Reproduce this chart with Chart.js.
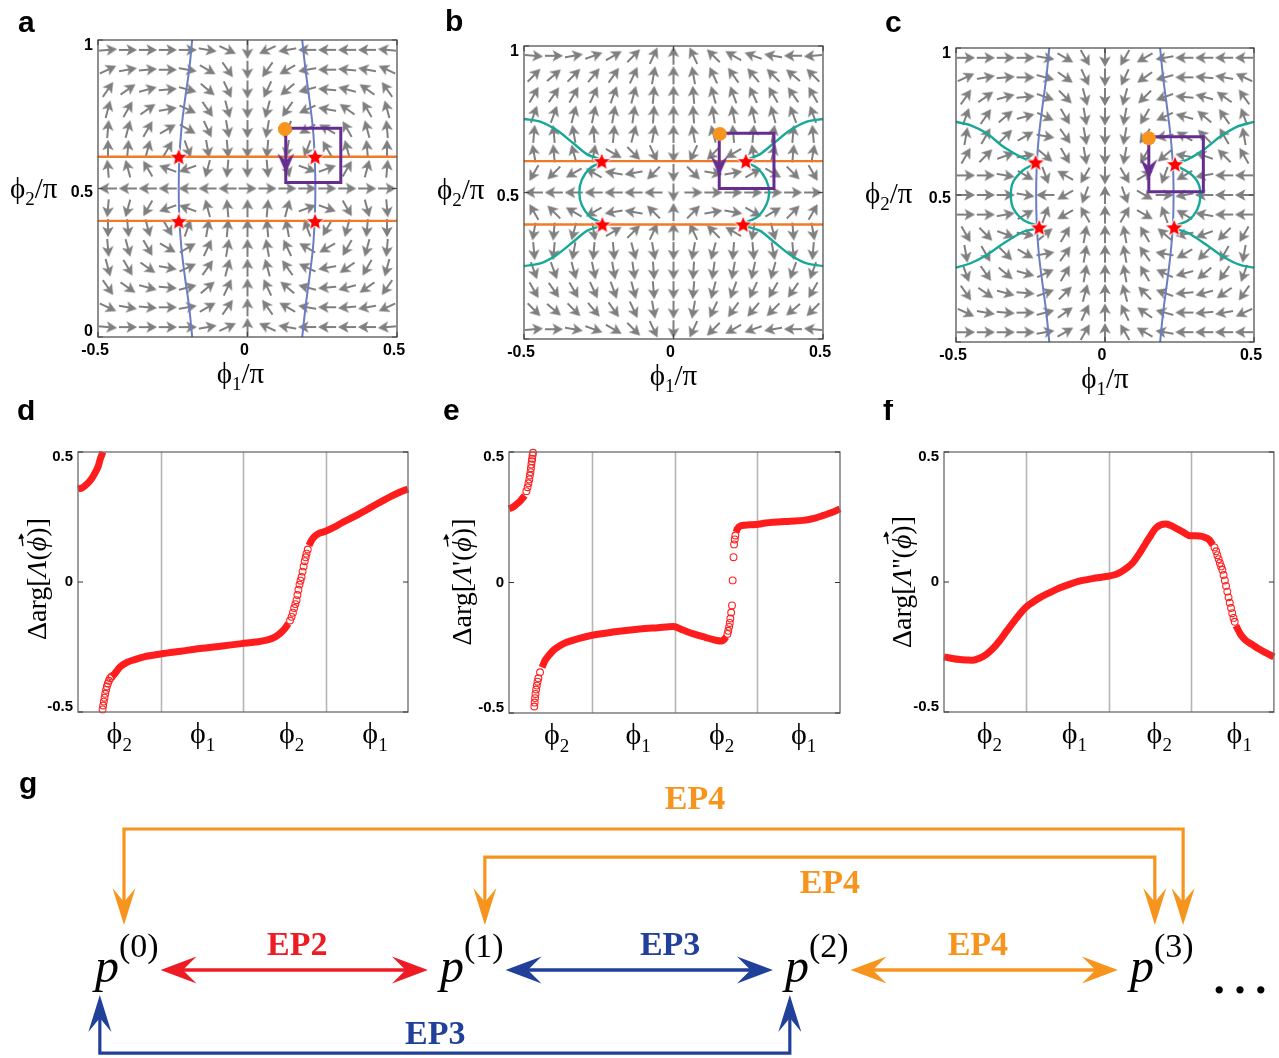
<!DOCTYPE html>
<html>
<head>
<meta charset="utf-8">
<script src="https://cdn.jsdelivr.net/npm/chart.js@4.4.1/dist/chart.umd.min.js"></script>
<style>
html,body{margin:0;padding:0;background:#fff;}
#wrap{position:relative;width:1279px;height:1058px;overflow:hidden;background:#fff}
canvas{position:absolute;}
</style>
</head>
<body>
<div id="wrap">
<canvas id="cA" width="430" height="400" style="left:0px;top:0px"></canvas>
<canvas id="cB" width="430" height="400" style="left:430px;top:0px"></canvas>
<canvas id="cC" width="419" height="400" style="left:860px;top:0px"></canvas>
<canvas id="cD" width="430" height="360" style="left:0px;top:400px"></canvas>
<canvas id="cE" width="440" height="360" style="left:430px;top:400px"></canvas>
<canvas id="cF" width="409" height="360" style="left:870px;top:400px"></canvas>
<canvas id="cG" width="1279" height="298" style="left:0px;top:760px"></canvas>
</div>
<script>
// ================= DATA =================
// Vector-field directions (degrees, counter-clockwise from +phi1), rows top (phi2 ~ 1) to bottom (phi2 ~ 0)
const fieldA = [
 [5,0,0,0,0,-10,-25,-90,205,190,180,180,180,180,175],
 [25,10,5,0,-10,-30,-55,-90,235,210,190,180,175,170,155],
 [55,35,15,5,-15,-40,-65,-90,245,220,195,175,165,145,125],
 [75,60,35,10,-25,-55,-75,-90,255,235,205,170,145,120,105],
 [85,75,60,30,-30,-65,-80,-90,260,245,210,150,120,105,95],
 [90,85,75,60,-70,-80,-85,-90,265,260,250,120,105,95,90],
 [95,105,120,160,-160,-105,-95,-90,275,285,340,20,60,75,85],
 [180,180,180,180,180,180,180,0,0,0,0,0,0,0,0],
 [-95,-105,-120,-160,160,105,95,90,-275,-285,-340,-20,-60,-75,-85],
 [-90,-85,-75,-60,70,80,85,90,-265,-260,-250,-120,-105,-95,-90],
 [-85,-75,-60,-30,30,65,80,90,-260,-245,-210,-150,-120,-105,-95],
 [-75,-60,-35,-10,25,55,75,90,-255,-235,-205,-170,-145,-120,-105],
 [-55,-35,-15,-5,15,40,65,90,-245,-220,-195,-175,-165,-145,-125],
 [-25,-10,-5,0,10,30,55,90,-235,-210,-190,-180,-175,-170,-155],
 [-5,0,0,0,0,10,25,90,-205,-190,-180,-180,-180,-180,-175]
];
const fieldB = [
 [-5,0,10,20,30,45,65,90,115,135,150,160,170,180,185],
 [45,40,45,50,55,65,80,90,100,115,125,130,135,140,135],
 [60,55,60,65,70,75,85,90,95,105,110,115,120,125,120],
 [70,70,75,78,80,82,86,90,94,98,100,102,105,110,110],
 [85,95,100,95,85,75,80,90,100,105,95,85,80,85,95],
 [100,95,105,80,-30,-45,-65,-90,245,225,210,100,75,85,80],
 [-120,-135,-150,150,170,-170,-135,-90,315,350,10,30,330,315,300],
 [180,180,180,180,180,180,180,-90,0,0,0,0,0,0,0],
 [120,135,150,-150,-170,170,135,90,-315,-350,-10,-30,-330,-315,-300],
 [-100,-95,-105,-80,30,45,65,90,-245,-225,-210,-100,-75,-85,-80],
 [-85,-95,-100,-95,-85,-75,-80,-90,-100,-105,-95,-85,-80,-85,-95],
 [-70,-70,-75,-78,-80,-82,-86,-90,-94,-98,-100,-102,-105,-110,-110],
 [-60,-55,-60,-65,-70,-75,-85,-90,-95,-105,-110,-115,-120,-125,-120],
 [-45,-40,-45,-50,-55,-65,-80,-90,-100,-115,-125,-130,-135,-140,-135],
 [5,0,-10,-20,-30,-45,-65,-90,-115,-135,-150,-160,-170,-180,-185]
];
const fieldC = [
 [0,0,0,0,-10,-30,-60,-90,240,210,190,180,180,180,180],
 [25,10,5,0,-15,-35,-65,-90,245,215,195,180,175,170,155],
 [55,35,15,5,-20,-45,-75,-90,255,225,200,175,165,145,125],
 [70,55,40,15,-25,-60,-80,-90,260,240,205,165,140,125,110],
 [80,60,45,30,-10,-55,-80,-90,260,235,190,150,135,120,100],
 [60,45,20,10,-40,-60,-80,-90,260,240,220,170,160,135,120],
 [0,0,-10,-30,-70,150,-120,-90,300,30,250,210,190,180,180],
 [0,0,0,-10,180,-150,-110,90,290,330,0,190,180,180,180],
 [0,0,10,30,70,-150,120,90,-300,-30,-250,-210,-190,-180,-180],
 [-60,-45,-20,-10,40,60,80,90,-260,-240,-220,-170,-160,-135,-120],
 [-80,-60,-45,-30,10,55,80,90,-260,-235,-190,-150,-135,-120,-100],
 [-70,-55,-40,-15,25,60,80,90,-260,-240,-205,-165,-140,-125,-110],
 [-55,-35,-15,-5,20,45,75,90,-255,-225,-200,-175,-165,-145,-125],
 [-25,-10,-5,0,15,35,65,90,-245,-215,-195,-180,-175,-170,-155],
 [0,0,0,0,10,30,60,90,-240,-210,-190,-180,-180,-180,-180]
];
// exceptional points (stars)
const epA = [[-0.23,0.607],[0.226,0.607],[-0.23,0.39],[0.226,0.39]];
const epB = [[-0.24,0.607],[0.242,0.607],[-0.238,0.391],[0.233,0.391]];
const epC = [[-0.233,0.611],[0.235,0.605],[-0.221,0.39],[0.232,0.39]];
// horizontal orange lines (phi2 values)
const orangeA = [0.607,0.391];
const orangeB = [0.607,0.391];
// blue curves
const blueAL = [[-0.185,1],[-0.195,0.9],[-0.209,0.8],[-0.221,0.7],[-0.228,0.6],[-0.23,0.5],[-0.228,0.4],[-0.221,0.3],[-0.209,0.2],[-0.195,0.1],[-0.185,0]];
const blueAR = [[0.183,1],[0.194,0.9],[0.207,0.8],[0.219,0.7],[0.225,0.6],[0.227,0.5],[0.225,0.4],[0.219,0.3],[0.207,0.2],[0.194,0.1],[0.183,0]];
const blueCL = [[-0.187,1],[-0.197,0.9],[-0.21,0.8],[-0.222,0.7],[-0.229,0.6],[-0.231,0.5],[-0.229,0.4],[-0.222,0.3],[-0.21,0.2],[-0.197,0.1],[-0.187,0]];
const blueCR = [[0.185,1],[0.195,0.9],[0.208,0.8],[0.22,0.7],[0.228,0.6],[0.23,0.5],[0.228,0.4],[0.22,0.3],[0.208,0.2],[0.195,0.1],[0.185,0]];
// teal curves
const tealBL = [[-0.5,0.751],[-0.446,0.742],[-0.391,0.713],[-0.335,0.668],[-0.29,0.631],[-0.24,0.607],[-0.279,0.583],[-0.307,0.543],[-0.315,0.5],[-0.307,0.457],[-0.279,0.417],[-0.238,0.391],[-0.29,0.369],[-0.335,0.332],[-0.391,0.287],[-0.446,0.258],[-0.5,0.249]];
const tealBR = [[0.5,0.751],[0.446,0.742],[0.391,0.713],[0.335,0.668],[0.29,0.631],[0.242,0.607],[0.281,0.583],[0.31,0.543],[0.32,0.5],[0.31,0.457],[0.281,0.417],[0.233,0.391],[0.29,0.369],[0.335,0.332],[0.391,0.287],[0.446,0.258],[0.5,0.249]];
const tealCL = [[-0.5,0.749],[-0.453,0.738],[-0.397,0.71],[-0.341,0.664],[-0.274,0.625],[-0.233,0.611],[-0.274,0.585],[-0.308,0.545],[-0.316,0.5],[-0.308,0.455],[-0.274,0.415],[-0.221,0.39],[-0.274,0.375],[-0.341,0.335],[-0.397,0.296],[-0.453,0.267],[-0.5,0.253]];
const tealCR = [[0.5,0.749],[0.442,0.732],[0.386,0.698],[0.33,0.653],[0.274,0.619],[0.235,0.605],[0.285,0.574],[0.313,0.54],[0.32,0.494],[0.309,0.449],[0.281,0.415],[0.232,0.39],[0.281,0.37],[0.341,0.33],[0.397,0.29],[0.453,0.262],[0.5,0.253]];
// purple loops, arrow marker on loop, orange start point
const loopA = [[0.128,0.703],[0.312,0.703],[0.312,0.52],[0.128,0.52],[0.128,0.703]];
const loopB = [[0.153,0.702],[0.336,0.702],[0.336,0.514],[0.153,0.514],[0.153,0.702]];
const loopC = [[0.147,0.698],[0.33,0.698],[0.33,0.511],[0.147,0.511],[0.147,0.698]];
const loopArrowA = [0.128,0.585], loopArrowB = [0.153,0.59], loopArrowC = [0.147,0.588];
const startA = [0.125,0.70], startB = [0.155,0.70], startC = [0.147,0.693];
// axis ticks
const xTickVals = [-0.5,0,0.5];
const xTickText = ['-0.5','0','0.5'];
const yTickValsA = [0,0.5,1], yTickTextA = ['0','0.5','1'];
const yTickValsBC = [0.5,1], yTickTextBC = ['0.5','1'];

// phase curves d, e, f : [path parameter, Delta arg]
const dBand1 = [[0,0.358],[0.05,0.362],[0.109,0.377],[0.16,0.395],[0.21,0.422],[0.245,0.445],[0.27,0.473],[0.29,0.49],[0.3,0.5]];
const dJump1 = [[0.298,-0.49],[0.305,-0.475],[0.313,-0.46],[0.322,-0.445],[0.33,-0.43],[0.34,-0.415],[0.35,-0.402],[0.362,-0.39],[0.375,-0.38],[0.39,-0.37],[0.41,-0.363]];
const dBand2 = [[0.41,-0.363],[0.43,-0.358],[0.512,-0.326],[0.6,-0.308],[0.673,-0.3],[0.8,-0.288],[1.0,-0.277],[1.25,-0.266],[1.48,-0.256],[1.75,-0.246],[1.984,-0.237],[2.15,-0.231],[2.286,-0.224],[2.38,-0.213],[2.448,-0.198],[2.5,-0.182],[2.55,-0.16]];
const dJump2 = [[2.57,-0.148],[2.589,-0.134],[2.605,-0.118],[2.62,-0.1],[2.635,-0.085],[2.649,-0.07],[2.66,-0.05],[2.672,-0.03],[2.685,-0.01],[2.697,0.005],[2.71,0.019],[2.722,0.04],[2.735,0.06],[2.748,0.08],[2.76,0.095],[2.77,0.109],[2.785,0.125]];
const dBand3 = [[2.80,0.14],[2.83,0.16],[2.87,0.176],[2.911,0.185],[2.992,0.194],[3.1,0.21],[3.2,0.228],[3.294,0.243],[3.4,0.26],[3.5,0.278],[3.6,0.296],[3.698,0.313],[3.8,0.33],[3.9,0.345],[4.0,0.358]];

const eBand1 = [[0,0.282],[0.05,0.289],[0.093,0.30],[0.14,0.314],[0.19,0.333]];
const eJump1 = [[0.21,0.35],[0.225,0.365],[0.235,0.38],[0.245,0.395],[0.252,0.41],[0.26,0.423],[0.265,0.438],[0.27,0.452],[0.275,0.465],[0.28,0.474],[0.285,0.487],[0.29,0.497]];
const eJump2 = [[0.306,-0.475],[0.31,-0.46],[0.315,-0.443],[0.32,-0.427],[0.328,-0.41],[0.336,-0.395],[0.345,-0.38],[0.355,-0.367],[0.375,-0.344]];
const eBand2 = [[0.4,-0.325],[0.435,-0.299],[0.48,-0.28],[0.536,-0.26],[0.6,-0.245],[0.697,-0.229],[0.85,-0.214],[0.99,-0.203],[1.25,-0.19],[1.58,-0.178],[1.8,-0.173],[1.986,-0.169],[2.1,-0.182],[2.23,-0.197],[2.37,-0.21],[2.51,-0.222],[2.57,-0.224],[2.6,-0.218],[2.625,-0.208]];
const eJump3 = [[2.64,-0.197],[2.65,-0.185],[2.66,-0.17],[2.668,-0.155],[2.675,-0.138],[2.685,-0.115],[2.695,-0.088],[2.703,0.008],[2.713,0.097],[2.72,0.146],[2.728,0.165],[2.735,0.18]];
const eBand3 = [[2.745,0.193],[2.76,0.206],[2.81,0.218],[2.9,0.221],[2.985,0.222],[3.1,0.228],[3.19,0.231],[3.4,0.235],[3.557,0.238],[3.7,0.247],[3.8,0.257],[3.9,0.268],[4.0,0.282]];

const fBand1 = [[0,-0.288],[0.1,-0.294],[0.19,-0.298],[0.28,-0.3],[0.35,-0.301],[0.43,-0.293],[0.51,-0.279],[0.59,-0.257],[0.67,-0.228],[0.75,-0.193],[0.835,-0.157],[0.91,-0.127],[0.984,-0.1],[1.07,-0.079],[1.157,-0.061],[1.28,-0.041],[1.4,-0.023],[1.52,-0.009],[1.64,0.003],[1.8,0.013],[1.988,0.022],[2.06,0.027],[2.125,0.035],[2.2,0.05],[2.286,0.073],[2.37,0.11],[2.448,0.15],[2.51,0.181],[2.568,0.207],[2.63,0.22],[2.69,0.223],[2.75,0.217],[2.81,0.207],[2.9,0.192],[2.984,0.178],[3.06,0.178],[3.133,0.175],[3.214,0.163],[3.26,0.142]];
const fJump = [[3.28,0.133],[3.30,0.118],[3.315,0.103],[3.33,0.088],[3.345,0.073],[3.36,0.060],[3.375,0.047],[3.39,0.027],[3.405,0.006],[3.42,-0.015],[3.435,-0.037],[3.45,-0.059],[3.465,-0.08],[3.48,-0.1],[3.495,-0.12],[3.51,-0.138],[3.525,-0.153]];
const fBand2 = [[3.54,-0.168],[3.597,-0.202],[3.66,-0.225],[3.738,-0.241],[3.82,-0.258],[3.9,-0.272],[4.0,-0.288]];

const segGrid = [1,2,3];
const phaseYTicks = [-0.5,0,0.5], phaseYText = ['-0.5','0','0.5'];
const segSubs = ['2','1','2','1'];
const segPosD = [0.5,1.51,2.59,3.6];
const segPosE = [0.576,1.56,2.57,3.56];
const segPosF = [0.55,1.58,2.61,3.58];

// panel g : transitions between branches p(0..3)
const nodeNames = ['(0)','(1)','(2)','(3)'];
const adjFrom = [0,1,2];
const adjLabels = ['EP2','EP3','EP4'];
const longFrom = [0,1,0], longTo = [3,3,2];
const longLabels = ['EP4','EP4','EP3'];

// ================= STYLE / LAYOUT =================
const SERIF = '"Liberation Serif", "Times New Roman", serif';
const SANS = '"Liberation Sans", Arial, sans-serif';
const C_ORANGE_LINE = '#f07a2a', C_BLUE_LINE = '#6b7ec3', C_TEAL = '#17a898', C_PURPLE = '#662d91', C_DOT = '#f7941d', C_GRAY = '#7f7f7f';
const C_RED_G = '#ed1c24', C_BLUE_G = '#21409a', C_ORANGE_G = '#f7941d';

function makeArrowImg(){
  const c=document.createElement('canvas'); c.width=20; c.height=14;
  const g=c.getContext('2d'); g.fillStyle=C_GRAY; g.strokeStyle=C_GRAY; g.lineWidth=2;
  g.beginPath(); g.moveTo(1,7); g.lineTo(11,7); g.stroke();
  g.beginPath(); g.moveTo(19.2,7); g.lineTo(8.6,1.2); g.lineTo(11.2,7); g.lineTo(8.6,12.8); g.closePath(); g.fill();
  return c;
}
function makeStarImg(){
  const c=document.createElement('canvas'); c.width=22; c.height=22;
  const g=c.getContext('2d'); g.beginPath();
  for(let k=0;k<10;k++){ const r=k%2===0?9.5:4.2; const t=-Math.PI/2+k*Math.PI/5; const px=11+r*Math.cos(t), py=11.8+r*Math.sin(t); if(k) g.lineTo(px,py); else g.moveTo(px,py);}
  g.closePath(); g.fillStyle='#ff0000'; g.fill(); g.lineWidth=1; g.strokeStyle='#ffffff'; g.stroke();
  return c;
}
function makeHeadImg(){
  const c=document.createElement('canvas'); c.width=18; c.height=22;
  const g=c.getContext('2d'); g.fillStyle=C_PURPLE; g.beginPath();
  g.moveTo(9,21); g.lineTo(0.5,1); g.lineTo(9,8); g.lineTo(17.5,1); g.closePath(); g.fill();
  return c;
}
const arrowImg=makeArrowImg(), starImg=makeStarImg(), headImg=makeHeadImg();

function P(arr){ return arr.map(p=>({x:p[0],y:p[1]})); }
function quiverPoints(field){
  const pts=[];
  for(let j=0;j<field.length;j++) for(let i=0;i<field[j].length;i++)
    pts.push({x:-0.5+(i+0.5)/field[j].length, y:1-(j+0.5)/field.length, a:field[j][i]});
  return pts;
}
function lineDs(arr,color,width,tension,order){
  return {data:P(arr), showLine:true, borderColor:color, borderWidth:width, pointRadius:0, tension:tension, order:order, clip:3};
}

function rich(ctx, parts, x, y, align){
  let w=0; for(const p of parts){ctx.font=p.f; w+=ctx.measureText(p.t).width;}
  let cx = align==='center'? x-w/2 : (align==='right'? x-w : x);
  ctx.textAlign='left'; ctx.textBaseline='alphabetic';
  for(const p of parts){
    ctx.font=p.f; const pw=ctx.measureText(p.t).width;
    ctx.fillText(p.t, cx, y+(p.dy||0));
    if(p.vec){
      const size=parseFloat(p.f.match(/([\d.]+)px/)[1]); const vy=y-size*0.86;
      ctx.save(); ctx.strokeStyle=ctx.fillStyle; ctx.lineWidth=1.3;
      ctx.beginPath(); ctx.moveTo(cx+size*0.18, vy+1); ctx.lineTo(cx+pw+2, vy-0.5); ctx.stroke();
      ctx.beginPath(); ctx.moveTo(cx+pw+3.5, vy-0.7); ctx.lineTo(cx+pw-2.5, vy-3.8); ctx.lineTo(cx+pw-1.5, vy+2.2); ctx.closePath(); ctx.fill();
      ctx.restore();
    }
    cx+=pw;
  }
}
function phiParts(sub, big, small, drop, tail){
  const parts=[{t:'\u03D5',f:big+'px '+SERIF},{t:sub,f:small+'px '+SERIF,dy:drop}];
  if(tail) parts.push({t:tail,f:big+'px '+SERIF});
  return parts;
}

const baseOpts = (pad, xmin, xmax, ymin, ymax) => ({
  responsive:false, animation:false, devicePixelRatio:1, events:[],
  layout:{padding:pad},
  plugins:{legend:{display:false}, tooltip:{enabled:false}},
  scales:{x:{type:'linear',min:xmin,max:xmax,display:false}, y:{type:'linear',min:ymin,max:ymax,display:false}}
});

// ---------- quiver panels ----------
function quiverDecor(o){
  return {id:'qdecor', afterDatasetsDraw(chart){
    const ctx=chart.ctx, a=chart.chartArea, sx=chart.scales.x, sy=chart.scales.y;
    ctx.save();
    ctx.strokeStyle='#454545'; ctx.lineWidth=1.2;
    ctx.strokeRect(a.left, a.top, a.right-a.left, a.bottom-a.top);
    ctx.beginPath();
    xTickVals.forEach(v=>{const px=sx.getPixelForValue(v); ctx.moveTo(px,a.bottom); ctx.lineTo(px,a.bottom-5); ctx.moveTo(px,a.top); ctx.lineTo(px,a.top+5);});
    [0,0.5,1].forEach(v=>{const py=sy.getPixelForValue(v); ctx.moveTo(a.left,py); ctx.lineTo(a.left+5,py); ctx.moveTo(a.right,py); ctx.lineTo(a.right-5,py);});
    ctx.stroke();
    ctx.fillStyle='#000';
    ctx.font='bold 16px '+SANS; ctx.textAlign='center'; ctx.textBaseline='alphabetic';
    xTickVals.forEach((v,k)=>{ ctx.fillText(xTickText[k], sx.getPixelForValue(v)-3, a.bottom+18); });
    ctx.textAlign='right'; ctx.textBaseline='middle';
    o.yVals.forEach((v,k)=>{ let py=sy.getPixelForValue(v)+4; py=Math.max(a.top+6, Math.min(a.bottom-5, py)); ctx.fillText(o.yText[k], o.yLabelRight, py); });
    ctx.fillStyle='#000';
    rich(ctx, phiParts('1',29,19,7,'/\u03C0'), sx.getPixelForValue(0)+o.xTitleDx, a.bottom+46, 'center');
    rich(ctx, phiParts('2',29,19,7,'/\u03C0'), o.yTitleLeft, o.yTitleBase, 'left');
    ctx.font='bold 30px '+SANS; ctx.textAlign='left'; ctx.textBaseline='alphabetic';
    ctx.fillText(o.letter, o.lx, o.ly);
    ctx.restore();
  }};
}
function quiverChart(id, field, extra, pad, deco){
  return new Chart(document.getElementById(id), {
    type:'scatter',
    data:{datasets:[{data:quiverPoints(field), pointStyle:arrowImg, rotation:c=>-(c.raw?c.raw.a:0), pointRadius:9, pointHoverRadius:9, order:10, clip:false}].concat(extra)},
    options:baseOpts(pad,-0.5,0.5,0,1),
    plugins:[quiverDecor(deco)]
  });
}
function markers(ep, loop, head, start){
  return [
    lineDs(loop, C_PURPLE, 3, 0, 4),
    {data:P(ep), pointStyle:starImg, pointRadius:10, order:3, clip:false},
    {data:[{x:head[0],y:head[1]}], pointStyle:headImg, pointRadius:10, order:2, clip:false},
    {data:[{x:start[0],y:start[1]}], pointStyle:'circle', pointRadius:7, backgroundColor:C_DOT, borderColor:C_DOT, borderWidth:0, order:1, clip:false}
  ];
}

quiverChart('cA', fieldA, [
  ...orangeA.map(v=>lineDs([[-0.5,v],[0.5,v]], C_ORANGE_LINE, 2.4, 0, 6)),
  lineDs(blueAL, C_BLUE_LINE, 2, 0.4, 6), lineDs(blueAR, C_BLUE_LINE, 2, 0.4, 6),
  ...markers(epA, loopA, loopArrowA, startA)
], {left:98, top:40, right:33, bottom:63},
 {letter:'a', lx:18, ly:32, yVals:yTickValsA, yText:yTickTextA, yLabelRight:93, xTitleDx:-7, yTitleLeft:10, yTitleBase:198});

quiverChart('cB', fieldB, [
  ...orangeB.map(v=>lineDs([[-0.5,v],[0.5,v]], C_ORANGE_LINE, 2.4, 0, 6)),
  lineDs(tealBL, C_TEAL, 2.4, 0.3, 6), lineDs(tealBR, C_TEAL, 2.4, 0.3, 6),
  ...markers(epB, loopB, loopArrowB, startB)
], {left:94, top:46, right:37, bottom:61},
 {letter:'b', lx:15, ly:31, yVals:yTickValsBC, yText:yTickTextBC, yLabelRight:89, xTitleDx:0, yTitleLeft:7, yTitleBase:199});

quiverChart('cC', fieldC, [
  lineDs(blueCL, C_BLUE_LINE, 2, 0.4, 6), lineDs(blueCR, C_BLUE_LINE, 2, 0.4, 6),
  lineDs(tealCL, C_TEAL, 2.4, 0.3, 6), lineDs(tealCR, C_TEAL, 2.4, 0.3, 6),
  ...markers(epC, loopC, loopArrowC, startC)
], {left:96, top:48, right:25, bottom:58},
 {letter:'c', lx:25, ly:32, yVals:yTickValsBC, yText:yTickTextBC, yLabelRight:91, xTitleDx:0, yTitleLeft:5, yTitleBase:203});

// ---------- phase panels ----------
function bandDs(arr){
  return {data:P(arr), showLine:true, borderColor:'#ff1c1c', borderWidth:7, cubicInterpolationMode:'monotone',
    pointRadius:0, order:2, clip:6};
}
function jumpDs(arr){
  return {data:P(arr), showLine:false, pointRadius:3.4, pointBorderWidth:1.1, pointBorderColor:'#ff2020', pointBackgroundColor:'rgba(255,255,255,0)', order:1, clip:6};
}
function phaseDecor(o){
  return {id:'pdecor',
    beforeDatasetsDraw(chart){
      const ctx=chart.ctx, a=chart.chartArea, sx=chart.scales.x;
      ctx.save(); ctx.strokeStyle='#b5b5b5'; ctx.lineWidth=1.6; ctx.beginPath();
      segGrid.forEach(v=>{const px=Math.round(sx.getPixelForValue(v))+0.5; ctx.moveTo(px,a.top); ctx.lineTo(px,a.bottom);});
      ctx.stroke(); ctx.restore();
    },
    afterDatasetsDraw(chart){
      const ctx=chart.ctx, a=chart.chartArea, sx=chart.scales.x, sy=chart.scales.y;
      ctx.save();
      ctx.strokeStyle='#6a6a6a'; ctx.lineWidth=1.3;
      ctx.strokeRect(a.left, a.top, a.right-a.left, a.bottom-a.top);
      ctx.strokeStyle='#333'; ctx.lineWidth=1; ctx.beginPath();
      phaseYTicks.forEach(v=>{const py=sy.getPixelForValue(v); ctx.moveTo(a.left,py); ctx.lineTo(a.left+5,py); ctx.moveTo(a.right,py); ctx.lineTo(a.right-5,py);});
      ctx.stroke();
      ctx.fillStyle='#000'; ctx.font='bold 15px '+SANS; ctx.textAlign='right'; ctx.textBaseline='middle';
      phaseYTicks.forEach((v,k)=>{ let py=sy.getPixelForValue(v); py=Math.max(a.top+5, Math.min(a.bottom-5, py)); ctx.fillText(phaseYText[k], a.left-5, py); });
      o.segPos.forEach((v,k)=>{ rich(ctx, phiParts(segSubs[k],30,19,8), sx.getPixelForValue(v), a.bottom+31, 'center'); });
      ctx.save(); ctx.translate(o.titleX, o.titleY); ctx.rotate(-Math.PI/2);
      rich(ctx, [
        {t:'\u0394arg[',f:'28px '+SERIF},{t:'\u039B',f:'italic 28px '+SERIF},{t:o.prime,f:'28px '+SERIF},
        {t:'(',f:'28px '+SERIF},{t:'\u03D5',f:'italic 28px '+SERIF,vec:true},{t:')]',f:'28px '+SERIF}], 0, 9, 'center');
      ctx.restore();
      ctx.font='bold 30px '+SANS; ctx.textAlign='left'; ctx.textBaseline='alphabetic'; ctx.fillStyle='#000';
      ctx.fillText(o.letter, o.lx, 20);
      ctx.restore();
    }};
}
function phaseChart(id, bands, jumps, pad, deco){
  return new Chart(document.getElementById(id), {
    type:'scatter',
    data:{datasets: bands.map(bandDs).concat(jumps.map(jumpDs))},
    options:baseOpts(pad,0,4,-0.5,0.5),
    plugins:[phaseDecor(deco)]
  });
}
phaseChart('cD', [dBand1,dBand2,dBand3], [dJump1,dJump2], {left:78, top:52, right:22, bottom:48},
  {letter:'d', lx:17, segPos:segPosD, titleX:37, titleY:179, prime:''});
phaseChart('cE', [eBand1,eBand2,eBand3], [eJump1,eJump2,eJump3], {left:79, top:52, right:30, bottom:47},
  {letter:'e', lx:13, segPos:segPosE, titleX:32, titleY:182, prime:"'"});
phaseChart('cF', [fBand1,fBand2], [fJump], {left:74, top:52, right:4, bottom:48},
  {letter:'f', lx:13, segPos:segPosF, titleX:32, titleY:182, prime:"''"});

// ---------- panel g ----------
const gAdjColors = [C_RED_G, C_BLUE_G, C_ORANGE_G];
const gLongColors = [C_ORANGE_G, C_ORANGE_G, C_BLUE_G];
const gAdjStart = 0.19, gAdjEnd = 0.035, gAdjLabelX = [0.586,1.667,2.559], gAdjLabelY = 0.34;
const gLongFromOff = [0.084,0.13,0.014], gLongToOff = [0.154,0.072,0.014];
const gLongLevel = [2.0,1.6,-1.18], gLongTip = [0.64,0.64,-0.355];
const gLongLabelX = [1.739,2.13,0.986], gLongLabelY = [2.41,1.22,-0.92];

function head(ctx, x, y, ang, L, W, color){
  const dx=Math.cos(ang), dy=Math.sin(ang), nx=-dy, ny=dx;
  ctx.fillStyle=color; ctx.beginPath();
  ctx.moveTo(x,y);
  ctx.lineTo(x-L*dx+W/2*nx, y-L*dy+W/2*ny);
  ctx.lineTo(x-0.62*L*dx, y-0.62*L*dy);
  ctx.lineTo(x-L*dx-W/2*nx, y-L*dy-W/2*ny);
  ctx.closePath(); ctx.fill();
}
new Chart(document.getElementById('cG'), {
  type:'scatter', data:{datasets:[]},
  options:baseOpts({left:0,top:0,right:0,bottom:0}, -0.2754, 3.4319, -1.248, 2.979),
  plugins:[{id:'gdraw', afterDraw(chart){
    const ctx=chart.ctx, X=v=>chart.scales.x.getPixelForValue(v), Y=v=>chart.scales.y.getPixelForValue(v);
    ctx.save();
    adjFrom.forEach((i,k)=>{
      const x0=X(i+gAdjStart), x1=X(i+1-gAdjEnd), y=Y(0), L=36, W=27;
      ctx.strokeStyle=gAdjColors[k]; ctx.lineWidth=3.6;
      ctx.beginPath(); ctx.moveTo(x0+0.6*L,y); ctx.lineTo(x1-0.6*L,y); ctx.stroke();
      head(ctx,x0,y,Math.PI,L,W,gAdjColors[k]); head(ctx,x1,y,0,L,W,gAdjColors[k]);
      ctx.fillStyle=gAdjColors[k]; ctx.font='bold 34px '+SERIF; ctx.textAlign='center'; ctx.textBaseline='middle';
      ctx.fillText(adjLabels[k], X(gAdjLabelX[k]), Y(gAdjLabelY));
    });
    longFrom.forEach((i,k)=>{
      const xa=X(i+gLongFromOff[k]), xb=X(longTo[k]+gLongToOff[k]), yl=Y(gLongLevel[k]), yt=Y(gLongTip[k]);
      const down = gLongLevel[k] > gLongTip[k]; const L=37, W=23; const off = down? -0.6*L : 0.6*L;
      ctx.strokeStyle=gLongColors[k]; ctx.lineWidth=3.2; ctx.lineJoin='miter';
      ctx.beginPath(); ctx.moveTo(xa,yt+off); ctx.lineTo(xa,yl); ctx.lineTo(xb,yl); ctx.lineTo(xb,yt+off); ctx.stroke();
      const ang = down? Math.PI/2 : -Math.PI/2;
      head(ctx,xa,yt,ang,L,W,gLongColors[k]); head(ctx,xb,yt,ang,L,W,gLongColors[k]);
      ctx.fillStyle=gLongColors[k]; ctx.font='bold 34px '+SERIF; ctx.textAlign='center'; ctx.textBaseline='middle';
      ctx.fillText(longLabels[k], X(gLongLabelX[k]), Y(gLongLabelY[k]));
    });
    ctx.fillStyle='#000';
    nodeNames.forEach((n,i)=>{
      rich(ctx, [{t:'p',f:'italic 48px '+SERIF},{t:n,f:'34px '+SERIF,dy:-25}], X(i), Y(-0.17), 'left');
    });
    ctx.font='62px '+SERIF; ctx.textAlign='center'; ctx.textBaseline='alphabetic';
    ctx.fillText('\u2026', X(3.319), Y(-0.32));
    ctx.font='bold 30px '+SANS; ctx.textAlign='left';
    ctx.fillText('g', 19, 33);
    ctx.restore();
  }}]
});
</script>
</body>
</html>
